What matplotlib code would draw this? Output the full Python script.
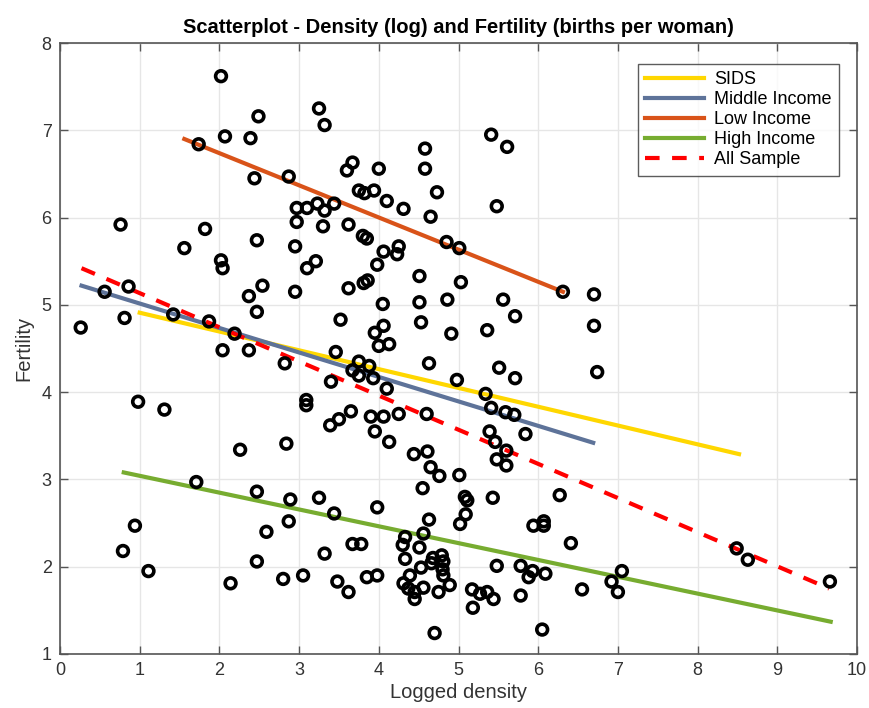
import matplotlib
matplotlib.use("Agg")
import matplotlib.pyplot as plt
import numpy as np

plt.rcParams['font.family'] = ['Liberation Sans', 'DejaVu Sans']

# Scatter data: logged density (x) and fertility (y)
density = [
    2.02, 2.49, 3.25, 3.32, 2.07, 2.39, 1.74, 2.44, 2.87, 2.97, 3.10, 3.23, 3.32, 3.44,
    2.97, 3.30, 0.76, 1.82, 2.47, 1.56, 2.95, 2.02, 2.04, 3.21, 3.10, 0.86, 0.56, 2.54,
    2.37, 2.95, 2.47, 0.26, 0.81, 1.42, 1.87, 2.19, 3.52,
    5.41, 5.61, 4.58, 4.58, 3.67, 3.60, 4.00, 4.73, 3.75, 3.82, 3.94, 4.10, 4.31, 4.65,
    5.48, 3.62, 3.80, 3.85, 4.06, 4.25, 4.23, 3.98, 4.85, 5.01, 4.51, 5.03, 3.62, 3.81,
    3.86, 4.05, 4.51, 4.86, 5.56, 5.71, 6.31, 4.06, 3.95, 4.53, 4.91, 5.36, 6.70, 6.70,
    2.04, 2.37, 2.82, 3.40, 3.46, 0.98, 1.31, 3.09, 3.09, 3.39, 3.50, 2.26, 2.84, 1.71,
    2.47, 2.89, 3.25, 3.44, 0.94, 2.87, 2.59, 0.79, 3.32, 2.47, 1.11, 2.14, 2.80, 3.05,
    3.48,
    4.00, 4.13, 4.63, 5.51, 5.71, 3.75, 3.88, 3.67, 3.75, 3.93, 4.10, 4.98, 5.34, 5.41,
    5.59, 5.70, 3.65, 3.90, 4.06, 4.25, 4.60, 3.95, 4.13, 5.39, 5.46, 5.60, 5.48, 5.60,
    5.84, 4.44, 4.61, 4.65, 4.76, 5.01, 4.55, 3.98, 5.08, 5.11, 5.43, 6.27, 5.09, 5.02,
    4.63, 4.56, 4.33, 4.30, 4.51, 4.33, 3.67, 3.78, 5.94, 6.07, 6.07, 6.41, 4.68, 4.79,
    4.81, 4.66, 4.53, 5.48, 5.78, 5.93, 5.88, 6.09, 3.62, 3.85, 3.98, 4.39, 4.31, 4.37,
    4.45, 4.45, 4.56, 4.75, 4.81, 4.89, 4.80, 5.17, 5.27, 5.36, 5.44, 5.18, 5.78, 4.70,
    6.05, 6.55, 6.74, 6.92, 7.05, 7.00, 8.49, 8.63, 9.66,
]
fertility = [
    7.62, 7.16, 7.25, 7.06, 6.93, 6.91, 6.84, 6.45, 6.47, 6.11, 6.11, 6.16, 6.08, 6.16,
    5.95, 5.90, 5.92, 5.87, 5.74, 5.65, 5.67, 5.51, 5.42, 5.50, 5.42, 5.21, 5.15, 5.22,
    5.10, 5.15, 4.92, 4.74, 4.85, 4.89, 4.81, 4.67, 4.83,
    6.95, 6.81, 6.79, 6.56, 6.63, 6.54, 6.56, 6.29, 6.31, 6.28, 6.31, 6.19, 6.10, 6.01,
    6.13, 5.92, 5.79, 5.76, 5.61, 5.67, 5.58, 5.46, 5.72, 5.65, 5.33, 5.26, 5.19, 5.25,
    5.28, 5.01, 5.03, 5.06, 5.06, 4.87, 5.15, 4.76, 4.68, 4.80, 4.67, 4.71, 5.12, 4.76,
    4.48, 4.48, 4.33, 4.12, 4.46, 3.89, 3.80, 3.91, 3.85, 3.62, 3.69, 3.34, 3.41, 2.97,
    2.86, 2.77, 2.79, 2.61, 2.47, 2.52, 2.40, 2.18, 2.15, 2.06, 1.95, 1.81, 1.86, 1.90,
    1.83,
    4.53, 4.55, 4.33, 4.28, 4.16, 4.35, 4.30, 4.25, 4.19, 4.16, 4.04, 4.14, 3.98, 3.82,
    3.77, 3.74, 3.78, 3.72, 3.72, 3.75, 3.75, 3.55, 3.43, 3.55, 3.43, 3.33, 3.23, 3.16,
    3.52, 3.29, 3.32, 3.14, 3.04, 3.05, 2.90, 2.68, 2.80, 2.76, 2.79, 2.82, 2.60, 2.49,
    2.54, 2.38, 2.34, 2.25, 2.22, 2.09, 2.26, 2.26, 2.47, 2.52, 2.47, 2.27, 2.10, 2.13,
    2.06, 2.04, 1.99, 2.01, 2.01, 1.95, 1.88, 1.92, 1.71, 1.88, 1.90, 1.90, 1.81, 1.75,
    1.71, 1.63, 1.76, 1.71, 1.90, 1.79, 1.97, 1.74, 1.69, 1.71, 1.63, 1.53, 1.67, 1.24,
    1.28, 1.74, 4.23, 1.83, 1.95, 1.71, 2.21, 2.08, 1.83,
]

# Fitted lines (endpoints)
fit_names = ["SIDS", "Middle Income", "Low Income", "High Income", "All Sample"]
fit_x = [[1.00, 8.52], [0.27, 6.69], [1.56, 6.31], [0.80, 9.67], [0.27, 9.65]]
fit_y = [[4.91, 3.29], [5.22, 3.42], [6.90, 5.15], [3.08, 1.37], [5.42, 1.75]]
fit_colors = ["#FFD700", "#5E7399", "#D95319", "#77AC30", "#FF0000"]
fit_styles = ["-", "-", "-", "-", "--"]

x_ticks = list(range(0, 11))
y_ticks = list(range(1, 9))

fig = plt.figure(figsize=(8.69, 7.08), dpi=100)
ax = fig.add_axes([60 / 869, 1 - 654 / 708, (857 - 60) / 869, (654 - 43) / 708])

ax.scatter(density, fertility, s=60, facecolors='none', edgecolors='black',
           linewidths=2.6, zorder=3)
for name, xs, ys, c, ls in zip(fit_names, fit_x, fit_y, fit_colors, fit_styles):
    if ls == "--":
        ax.plot(xs, ys, color=c, lw=3, ls=(0, (3.5, 3)), label=name, zorder=2)
    else:
        ax.plot(xs, ys, color=c, lw=3, ls=ls, label=name, zorder=2)

ax.set_xlim(0, 10)
ax.set_ylim(1, 8)
ax.set_xticks(x_ticks)
ax.set_yticks(y_ticks)
ax.grid(True, color='#e6e6e6', lw=1)
ax.set_axisbelow(True)
for sp in ax.spines.values():
    sp.set_color('#555555')
    sp.set_linewidth(1.2)
ax.tick_params(direction='in', length=6, width=1, colors='#555555',
               labelcolor='#333333', labelsize=13, top=True, right=True, pad=6)

ax.set_xlabel("Logged density", fontsize=14.5, color='#333333', labelpad=3)
ax.set_ylabel("Fertility", fontsize=14.5, color='#333333', labelpad=6)
ax.set_title("Scatterplot - Density (log) and Fertility (births per woman)",
             fontsize=14.5, fontweight='bold', pad=7)

leg = ax.legend(loc='upper right', bbox_to_anchor=(839 / 869, 1 - 64 / 708),
                bbox_transform=fig.transFigure, fontsize=13, frameon=True,
                fancybox=False, edgecolor='#333333', handlelength=3.3,
                handletextpad=0.55, borderpad=0.4, labelspacing=0.17,
                borderaxespad=0)
leg.get_frame().set_linewidth(1)

fig.savefig("out.png", dpi=100)
